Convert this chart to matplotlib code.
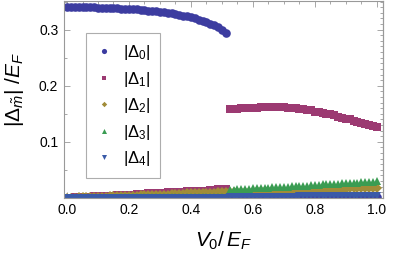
import numpy as np
import matplotlib
matplotlib.use("Agg")
import matplotlib.pyplot as plt
from matplotlib.ticker import MultipleLocator

plt.rcParams['font.family'] = ['Liberation Sans', 'DejaVu Sans']
plt.rcParams['mathtext.fontset'] = 'custom'
plt.rcParams['mathtext.rm'] = 'Liberation Sans'
plt.rcParams['mathtext.it'] = 'Liberation Sans:italic'
plt.rcParams['mathtext.bf'] = 'Liberation Sans:bold'

# ---- data ----
# phase A: V0/EF from 0 to 0.5125 (step 0.0125)
xA = [0.0, 0.0125, 0.025, 0.0375, 0.05, 0.0625, 0.075, 0.0875, 0.1, 0.1125,
      0.125, 0.1375, 0.15, 0.1625, 0.175, 0.1875, 0.2, 0.2125, 0.225, 0.2375,
      0.25, 0.2625, 0.275, 0.2875, 0.3, 0.3125, 0.325, 0.3375, 0.35, 0.3625,
      0.375, 0.3875, 0.4, 0.4125, 0.425, 0.4375, 0.45, 0.4625, 0.475, 0.4875,
      0.5, 0.5125]
d0A = [0.341, 0.341, 0.341, 0.341, 0.340, 0.340, 0.340, 0.340, 0.339, 0.339,
       0.339, 0.338, 0.338, 0.338, 0.337, 0.337, 0.337, 0.336, 0.336, 0.335,
       0.335, 0.334, 0.334, 0.333, 0.332, 0.331, 0.330, 0.329, 0.328, 0.327,
       0.325, 0.324, 0.322, 0.320, 0.318, 0.316, 0.314, 0.311, 0.308, 0.304,
       0.299, 0.294]
d1A = [0.000, 0.000, 0.001, 0.001, 0.001, 0.002, 0.002, 0.003, 0.003, 0.003,
       0.004, 0.004, 0.004, 0.005, 0.005, 0.006, 0.006, 0.006, 0.007, 0.007,
       0.007, 0.008, 0.008, 0.009, 0.009, 0.009, 0.010, 0.010, 0.010, 0.011,
       0.011, 0.012, 0.012, 0.012, 0.013, 0.013, 0.013, 0.014, 0.014, 0.015,
       0.015, 0.016]
d2A = [0.000, 0.000, 0.000, 0.001, 0.001, 0.001, 0.001, 0.002, 0.002, 0.002,
       0.002, 0.003, 0.003, 0.003, 0.003, 0.004, 0.004, 0.004, 0.004, 0.005,
       0.005, 0.005, 0.005, 0.006, 0.006, 0.006, 0.006, 0.007, 0.007, 0.007,
       0.007, 0.008, 0.008, 0.008, 0.008, 0.009, 0.009, 0.009, 0.009, 0.010,
       0.010, 0.010]
d3A = [0.000, 0.000, 0.000, 0.000, 0.000, 0.000, 0.000, 0.000, 0.000, 0.000,
       0.000, 0.000, 0.000, 0.000, 0.001, 0.001, 0.001, 0.001, 0.001, 0.001,
       0.001, 0.001, 0.001, 0.001, 0.001, 0.001, 0.001, 0.001, 0.001, 0.001,
       0.001, 0.001, 0.001, 0.001, 0.001, 0.001, 0.001, 0.001, 0.001, 0.001,
       0.001, 0.001]
d4A = [0.000] * 42

# phase B: V0/EF from 0.525 to 1.0 (step 0.0125)
xB = [0.525, 0.5375, 0.55, 0.5625, 0.575, 0.5875, 0.6, 0.6125, 0.625, 0.6375,
      0.65, 0.6625, 0.675, 0.6875, 0.7, 0.7125, 0.725, 0.7375, 0.75, 0.7625,
      0.775, 0.7875, 0.8, 0.8125, 0.825, 0.8375, 0.85, 0.8625, 0.875, 0.8875,
      0.9, 0.9125, 0.925, 0.9375, 0.95, 0.9625, 0.975, 0.9875, 1.0]
d0B = [0.000, 0.000, 0.000, 0.000, 0.000, 0.001, 0.001, 0.001, 0.001, 0.001,
       0.001, 0.001, 0.001, 0.001, 0.001, 0.001, 0.001, 0.001, 0.001, 0.001,
       0.002, 0.002, 0.002, 0.002, 0.002, 0.002, 0.002, 0.002, 0.002, 0.002,
       0.002, 0.002, 0.002, 0.002, 0.002, 0.002, 0.002, 0.002, 0.002]
d1B = [0.158, 0.159, 0.159, 0.160, 0.160, 0.161, 0.161, 0.161, 0.162, 0.162,
       0.162, 0.162, 0.162, 0.162, 0.162, 0.161, 0.161, 0.160, 0.159, 0.158,
       0.157, 0.156, 0.154, 0.153, 0.152, 0.150, 0.149, 0.147, 0.145, 0.143,
       0.141, 0.140, 0.138, 0.136, 0.134, 0.132, 0.130, 0.128, 0.126]
d2B = [0.010, 0.010, 0.010, 0.011, 0.011, 0.011, 0.011, 0.012, 0.012, 0.012,
       0.012, 0.012, 0.013, 0.013, 0.013, 0.013, 0.014, 0.014, 0.014, 0.014,
       0.014, 0.015, 0.015, 0.015, 0.015, 0.015, 0.016, 0.016, 0.016, 0.016,
       0.016, 0.017, 0.017, 0.017, 0.017, 0.017, 0.018, 0.018, 0.018]
d3B = [0.014, 0.014, 0.015, 0.015, 0.016, 0.016, 0.017, 0.017, 0.017, 0.018,
       0.018, 0.019, 0.019, 0.019, 0.020, 0.020, 0.021, 0.021, 0.021, 0.022,
       0.022, 0.023, 0.023, 0.023, 0.024, 0.024, 0.025, 0.025, 0.025, 0.026,
       0.026, 0.027, 0.027, 0.027, 0.028, 0.028, 0.029, 0.029, 0.030]
d4B = [0.001, 0.001, 0.001, 0.001, 0.001, 0.001, 0.001, 0.001, 0.002, 0.002,
       0.002, 0.002, 0.002, 0.002, 0.002, 0.002, 0.002, 0.002, 0.003, 0.003,
       0.003, 0.003, 0.003, 0.003, 0.003, 0.003, 0.003, 0.003, 0.004, 0.004,
       0.004, 0.004, 0.004, 0.004, 0.004, 0.004, 0.004, 0.004, 0.004]

labels = [r'$|\Delta_{\mathit{0}}|$', r'$|\Delta_{\mathit{1}}|$', r'$|\Delta_{\mathit{2}}|$',
          r'$|\Delta_{\mathit{3}}|$', r'$|\Delta_{\mathit{4}}|$']
colors = ['#3c3ca0', '#9c3a72', '#a08c38', '#3a9c52', '#3a5aa8']
markers = ['o', 's', 'D', '^', 'v']
msizes = [6.2, 5.2, 4.6, 6.0, 6.0]

series = [(d0A, d0B), (d1A, d1B), (d2A, d2B), (d3A, d3B), (d4A, d4B)]

fig = plt.figure(figsize=(4.15, 2.58), dpi=100)
ax = fig.add_axes([0.154, 0.233, 0.769, 0.765])

x = np.array(xA + xB)
for (a, b), c, m, s, lab in zip(series, colors, markers, msizes, labels):
    y = np.array(a + b)
    ax.plot(x, y, linestyle='none', marker=m, color=c, markersize=s,
            markeredgewidth=0, label=lab)

ax.set_xlim(-0.01, 1.02)
ax.set_ylim(0, 0.352)
ax.set_xticks([0.0, 0.2, 0.4, 0.6, 0.8, 1.0])
ax.set_xticklabels(['0.0', '0.2', '0.4', '0.6', '0.8', '1.0'])
ax.set_yticks([0.1, 0.2, 0.3])
ax.set_yticklabels(['0.1', '0.2', '0.3'])
ax.xaxis.set_minor_locator(MultipleLocator(0.05))
ax.yaxis.set_minor_locator(MultipleLocator(0.05))
ax.tick_params(which='both', direction='in', top=True, right=False,
               color='#999999', labelsize=10, width=0.6)
ax.tick_params(which='major', length=4, pad=4)
ax.tick_params(which='minor', length=2)

sec = ax.secondary_yaxis('right')
sec.set_yticks([0.0, 0.1, 0.2, 0.3])
sec.yaxis.set_minor_locator(MultipleLocator(0.01))
sec.tick_params(which='both', direction='in', color='#999999', labelright=False, width=0.6)
sec.tick_params(which='major', length=4)
sec.tick_params(which='minor', length=2)
sec.spines['right'].set_color('#999999')

for sp in ax.spines.values():
    sp.set_color('#999999')
    sp.set_linewidth(0.8)

ax.set_xlabel(r'$V_{\mathit{0}}/\,E_F$', fontsize=15, labelpad=9)
ax.set_ylabel(r'$|\Delta_{\tilde{m}}|\ /E_F$', fontsize=15)
ax.yaxis.set_label_coords(-0.12, 0.55)

leg = ax.legend(loc='upper left', bbox_to_anchor=(0.069, 0.835), fontsize=12,
                frameon=True, fancybox=False, edgecolor='#999999',
                labelspacing=0.45, handlelength=1.0, handletextpad=0.6,
                borderpad=0.6, borderaxespad=0, markerscale=0.6)
leg.get_frame().set_linewidth(0.8)

fig.savefig('out.png', dpi=100)
